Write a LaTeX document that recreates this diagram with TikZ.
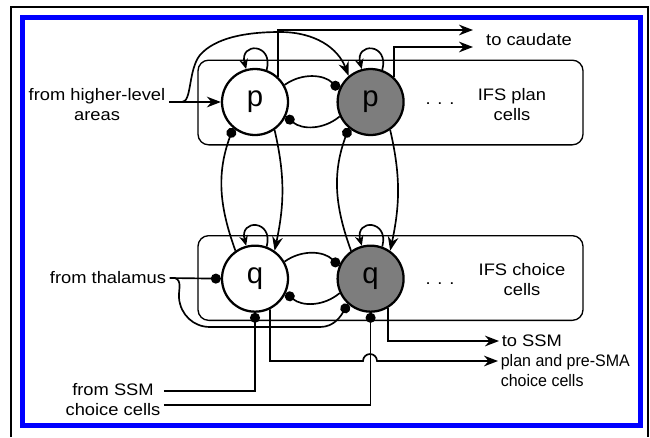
\documentclass[tikz,border=0pt]{standalone}
\usepackage{fontspec}
\setmainfont{Liberation Sans}
\newfontfamily\labelfont{Liberation Sans}[FakeStretch=1.1]
\newfontfamily\narrowlabelfont{Liberation Sans}[FakeStretch=0.96]
\usepackage{tikz}
\usetikzlibrary{positioning,shapes,arrows,arrows.meta}

\definecolor{cellgray}{RGB}{125,125,125}

\begin{document}
\begin{tikzpicture}[x=0.75pt, y=-0.75pt,
    >={Stealth[length=10.5pt,width=8pt]},
    line width=1.25pt,
    cell/.style={%
      circle, draw=black, line width=1.7pt, fill=white,
      minimum size=49.5pt, inner sep=0pt, font=\fontsize{22pt}{22pt}\selectfont
    },
    cellon/.style={cell, fill=cellgray},
    layer/.style={%
      rectangle, draw=black, line width=1pt, rounded corners=8pt,
      minimum width=288.75pt, minimum height=63.5pt
    },
    lbl/.style={%
      inner sep=2pt, align=center, font=\labelfont\fontsize{12.5pt}{15pt}\selectfont
    },
    inh/.style={-{Circle[length=7.5pt]}},
    selfloop/.style={-{Stealth[length=7.5pt,width=6.5pt]}}
]
    \useasboundingbox (0,0) rectangle (650,437);
    \draw[line width=1.2pt] (11,437) |- (648,7) -- (648,437);
    \draw[blue, line width=3.75pt] (22.5,17.5) rectangle (640.5,425.5);

    \node[layer] (plan)   at (390.5,102.5) {};
    \node[layer] (choice) at (390.5,278)   {};

    \node[cell]   (p1) at (255,102)           {p};
    \node[cellon] (p2) [right = 35.5pt of p1] {p};
    \node[cell]   (q1) [below = 81.3pt of p1] {q};
    \node[cellon] (q2) [right = 35.5pt of q1] {q};

    \node[lbl] (dots1) at (440,104) {. . .};
    \node[lbl] (dots2) at (440,284) {. . .};
    \node[lbl] (planlbl)   at (512,105) {IFS plan\\cells};
    \node[lbl] (choicelbl) at (522,280) {IFS choice\\cells};
    \node[lbl] (cau)  at (529,40)  {to caudate};
    \node[lbl] (hla)  at (97,105)  {from higher-level\\areas};
    \node[lbl] (thal) at (108,278) {from thalamus};
    \node[lbl] (ssm)  at (113,400) {from SSM\\choice cells};
    \node[lbl, anchor=west, inner sep=1.5pt] (tossm) at (499,341) {to SSM};
    \node[lbl, anchor=west, inner sep=1.5pt, align=left,
          font=\narrowlabelfont\fontsize{12.5pt}{15pt}\selectfont] (pre) at (498,371)
        {plan and pre-SMA\\choice cells};

    \coordinate (br1)  at (182,102);
    \coordinate (br2)  at (175,278);
    \coordinate (cau1) at (473,30);
    \coordinate (cau2) at (473,47);
    \coordinate (hop)  at (363,361);

    \draw[selfloop] (p1.70) to[out=75,in=105,looseness=3.5] (p1.105);
    \draw[selfloop] (p2.70) to[out=75,in=105,looseness=3.5] (p2.105);
    \draw[selfloop] (q1.70) to[out=75,in=105,looseness=3.5] (q1.105);
    \draw[selfloop] (q2.70) to[out=75,in=105,looseness=3.5] (q2.105);

    \draw[inh] (p1.30) to[bend left=40] (p2.158);
    \draw[inh] (p2.205) to[bend left=40] (p1.-25);
    \draw[inh] (q1.30) to[bend left=40] (q2.158);
    \draw[inh] (q2.205) to[bend left=40] (q1.-25);

    \draw[->]  (p1.-55) to[out=-77,in=78] (q1.55);
    \draw[inh] (q1.125) to[out=110,in=-110] (p1.230);
    \draw[->]  (p2.-55) to[out=-77,in=78] (q2.55);
    \draw[inh] (q2.125) to[out=110,in=-110] (p2.230);

    \draw[->] (hla.east |- p1) -- (p1.west);
    \draw[->] (br1) .. controls (192,102) and (188,70) .. (200,55)
        .. controls (215,38) and (245,32) .. (280,32)
        .. controls (315,32) and (338,48) .. (p2.130);
    \draw[->] (p1.48) |- (cau1);
    \draw[->] (p2.46) |- (cau2);

    \draw[inh] (thal.east) -- (q1.west);
    \draw[inh] (br2) to[out=-20,in=95] (179,298) to[out=-85,in=180] (210,327)
        -- (320,327) to[out=0,in=-120] (q2.228);
    \draw[inh] ([yshift=6.75pt]ssm.east) -| (q1.south);
    \draw[inh] ([yshift=-3.75pt]ssm.east) -| (q2.south);
    \draw[->] (q2.-59) |- (tossm.west);
    \draw[->] (q1.-64) |- (hop) arc (180:360:7) -- ([yshift=7.5pt]pre.west);

\end{tikzpicture}
\end{document}
